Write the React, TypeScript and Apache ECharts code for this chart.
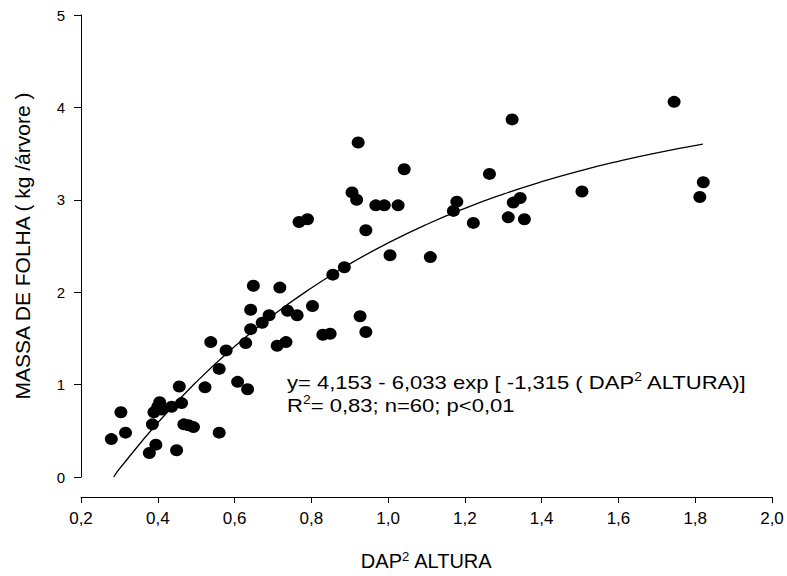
import React, { useEffect, useRef } from "react";
import * as echarts from "echarts";

// Observed data: DAP² ALTURA (x) vs MASSA DE FOLHA (y)
const dapAltura: number[] = [
  0.279, 0.304, 0.316, 0.378, 0.395, 0.386, 0.39, 0.40, 0.405, 0.41,
  0.436, 0.462, 0.449, 0.456, 0.468, 0.48, 0.493, 0.523, 0.56, 0.538,
  0.56, 0.578, 0.608, 0.634, 0.629, 0.642, 0.642, 0.649, 0.672, 0.69,
  0.718, 0.711, 0.734, 0.738, 0.763, 0.803, 0.768, 0.79, 0.83, 0.849,
  0.856, 0.886, 0.927, 0.942, 0.906, 0.918, 0.922, 0.942, 0.968, 0.99,
  1.026, 1.042, 1.005, 1.11, 1.179, 1.17, 1.222, 1.264, 1.323, 1.326,
  1.344, 1.313, 1.355, 1.505, 1.745, 1.821, 1.812,
];
const massaFolha: number[] = [
  0.41, 0.70, 0.48, 0.26, 0.35, 0.57, 0.70, 0.76, 0.81, 0.73,
  0.76, 0.80, 0.29, 0.98, 0.57, 0.56, 0.54, 0.97, 0.48, 1.46,
  1.17, 1.37, 1.03, 0.95, 1.45, 1.60, 1.81, 2.07, 1.67, 1.75,
  2.05, 1.42, 1.46, 1.80, 1.75, 1.85, 2.76, 2.79, 1.54, 1.55,
  2.19, 2.27, 1.74, 1.57, 3.08, 3.00, 3.62, 2.67, 2.94, 2.94,
  2.94, 3.33, 2.40, 2.38, 2.98, 2.88, 2.75, 3.28, 3.87, 2.97,
  3.02, 2.81, 2.79, 3.09, 4.06, 3.19, 3.03,
];

// Fitted curve
const curveX: number[] = [0.285, 0.3, 0.4, 0.5, 0.6, 0.7, 0.8, 0.9, 1.0, 1.1, 1.2, 1.3, 1.4, 1.5, 1.6, 1.7, 1.82];
const curveY: number[] = [0.0, 0.087, 0.587, 1.027, 1.412, 1.75, 2.046, 2.306, 2.533, 2.733, 2.908, 3.061, 3.196, 3.314, 3.417, 3.508, 3.602];

const yTicks = { min: 0, max: 5, interval: 1 };
const xTicks = { min: 0.2, max: 2.0, interval: 0.2 };

const FONT = "'Liberation Sans', Arial, Helvetica, sans-serif";

export default function App() {
  const ref = useRef<HTMLDivElement>(null);
  useEffect(() => {
    if (!ref.current) return;
    const chart = echarts.init(ref.current, null, { renderer: "svg" });
    const scatterData = dapAltura.map((x, i) => [x, massaFolha[i]]);
    const curveData = curveX.map((x, i) => [x, curveY[i]]);
    chart.setOption({
      animation: false,
      backgroundColor: "#ffffff",
      grid: { left: 81, right: 15, top: 15, bottom: 99, containLabel: false },
      xAxis: {
        type: "value",
        min: xTicks.min,
        max: xTicks.max,
        interval: xTicks.interval,
        offset: 20,
        axisLine: { show: true, onZero: false, lineStyle: { color: "#000", width: 1 } },
        axisTick: { show: true, inside: false, length: 6, lineStyle: { color: "#000" } },
        splitLine: { show: false },
        axisLabel: {
          color: "#000",
          fontFamily: FONT,
          fontSize: 17,
          margin: 13,
          formatter: (v: number) => v.toFixed(1).replace(".", ","),
        },
        name: "DAP{sup|2} ALTURA",
        nameLocation: "middle",
        nameGap: 53,
        nameTextStyle: {
          color: "#000",
          fontFamily: FONT,
          fontSize: 20,
          rich: {
            sup: { fontSize: 13, fontFamily: FONT, color: "#000", verticalAlign: "top", padding: [0, 0, 8, 0] },
          },
        },
      },
      yAxis: {
        type: "value",
        min: yTicks.min,
        max: yTicks.max,
        interval: yTicks.interval,
        axisLine: { show: true, lineStyle: { color: "#000", width: 1 } },
        axisTick: { show: true, inside: false, length: 7, lineStyle: { color: "#000" } },
        splitLine: { show: false },
        axisLabel: { color: "#000", fontFamily: FONT, fontSize: 15, margin: 16 },
        name: "MASSA DE FOLHA ( kg /árvore )",
        nameLocation: "middle",
        nameGap: 48,
        nameTextStyle: { color: "#000", fontFamily: FONT, fontSize: 21 },
      },
      series: [
        {
          type: "line",
          data: curveData,
          smooth: true,
          showSymbol: false,
          symbol: "none",
          lineStyle: { color: "#000", width: 1.3 },
          z: 1,
        },
        {
          type: "scatter",
          data: scatterData,
          symbol: "circle",
          symbolSize: [13, 12],
          itemStyle: { color: "#000", opacity: 1 },
          emphasis: { disabled: true },
          z: 2,
        },
      ],
      graphic: [
        {
          type: "text",
          x: 287,
          y: 371,
          scaleX: 1.16,
          style: {
            text: "y= 4,153 - 6,033 exp [ -1,315 ( DAP{sup|2} ALTURA)]\nR{sup|2}= 0,83; n=60; p<0,01",
            fill: "#000",
            font: `19px ${FONT}`,
            fontSize: 19,
            fontFamily: FONT,
            lineHeight: 23,
            align: "left",
            verticalAlign: "top",
            rich: {
              sup: { fontSize: 12, fontFamily: FONT, fill: "#000", verticalAlign: "top", lineHeight: 23, padding: [0, 0, 8, 0] },
            },
          },
        },
      ],
    });
    return () => chart.dispose();
  }, []);
  return <div ref={ref} style={{ position: "fixed", left: 0, top: 0, width: 787, height: 576 }} />;
}
